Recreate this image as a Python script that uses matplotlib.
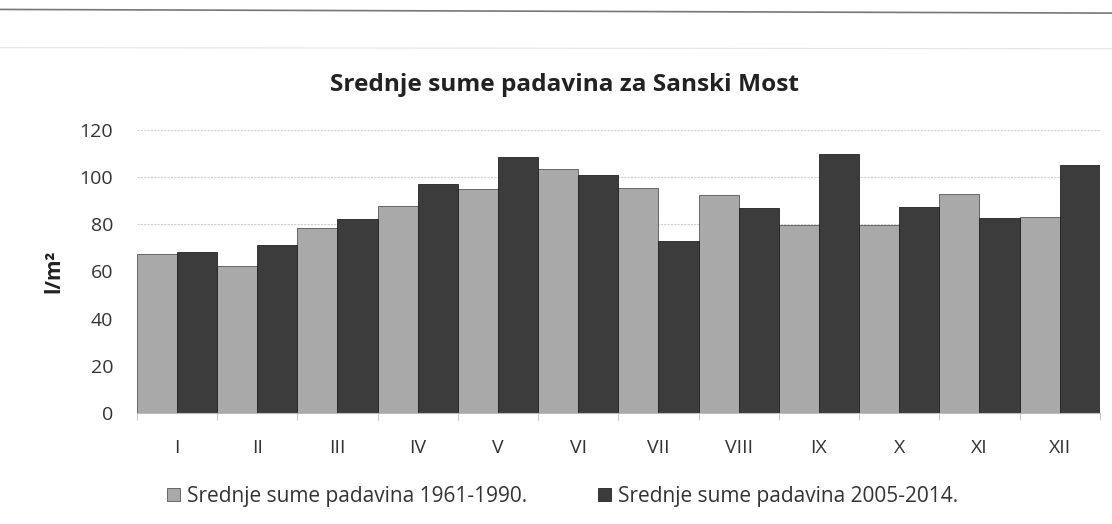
import numpy as np
import matplotlib
matplotlib.use("Agg")
import matplotlib.pyplot as plt
from matplotlib.patches import Patch

plt.rcParams['font.family'] = ['Open Sans', 'DejaVu Sans']

months = ['I', 'II', 'III', 'IV', 'V', 'VI', 'VII', 'VIII', 'IX', 'X', 'XI', 'XII']
sume_1961_1990 = [67.6, 62.2, 78.4, 87.6, 94.9, 103.5, 95.5, 92.5, 79.8, 79.5, 93.0, 83.2]
sume_2005_2014 = [68.3, 71.0, 82.2, 97.2, 108.6, 101.0, 73.0, 86.8, 110.0, 87.2, 82.6, 105.0]
label_old = 'Srednje sume padavina 1961-1990.'
label_new = 'Srednje sume padavina 2005-2014.'

light = '#a9a9a9'
dark = '#3c3c3c'

fig = plt.figure(figsize=(11.12, 5.24), dpi=100)
ax = fig.add_axes([0.123, 0.212, 0.866, 0.540])

x = np.arange(len(months))
w = 0.5
ax.bar(x - w / 2, sume_1961_1990, width=w, color=light, edgecolor='#555555', linewidth=0.6, zorder=2)
ax.bar(x + w / 2, sume_2005_2014, width=w, color=dark, edgecolor='#222222', linewidth=0.6, zorder=2)

ax.set_xlim(-0.5, len(months) - 0.5)
ax.set_ylim(0, 120)
ax.set_yticks(range(0, 121, 20))
ax.yaxis.grid(True, color='#cfcfcf', linestyle=(0, (2, 1)), linewidth=0.8, zorder=0)

ax.set_xticks(x)
ax.set_xticklabels(months, fontsize=14, color='#333333')
ax.set_xticks(np.arange(-0.5, len(months), 1), minor=True)
ax.tick_params(axis='x', which='major', length=0, pad=19)
ax.tick_params(axis='x', which='minor', length=5, color='#bbbbbb')
ax.tick_params(axis='y', length=0, labelsize=14, labelcolor='#333333', pad=17)

for s in ['top', 'right', 'left']:
    ax.spines[s].set_visible(False)
ax.spines['bottom'].set_color('#bbbbbb')

ax.set_ylabel('l/m²', fontsize=15, fontweight='bold', color='#222222')
ax.yaxis.set_label_coords(-0.075, 0.5)
fig.text(0.508, 0.838, 'Srednje sume padavina za Sanski Most', ha='center', va='center',
         fontsize=17.6, fontweight='bold', color='#222222')

handles = [Patch(facecolor=light, edgecolor='#555555', linewidth=0.6),
           Patch(facecolor=dark, edgecolor='#222222', linewidth=0.6)]
fig.legend(handles, [label_old, label_new], loc='center', bbox_to_anchor=(0.506, 0.053),
           ncol=2, frameon=False, fontsize=15, handlelength=0.6, handleheight=0.6,
           handletextpad=0.35, columnspacing=3.4, labelcolor='#333333')

# scan border lines at top
fig.add_artist(plt.Line2D([0, 1], [0.982, 0.975], color='#777777', linewidth=1.2))
fig.add_artist(plt.Line2D([0, 1], [0.909, 0.907], color='#e4e4e4', linewidth=0.8))

fig.savefig('out.png', dpi=100)
